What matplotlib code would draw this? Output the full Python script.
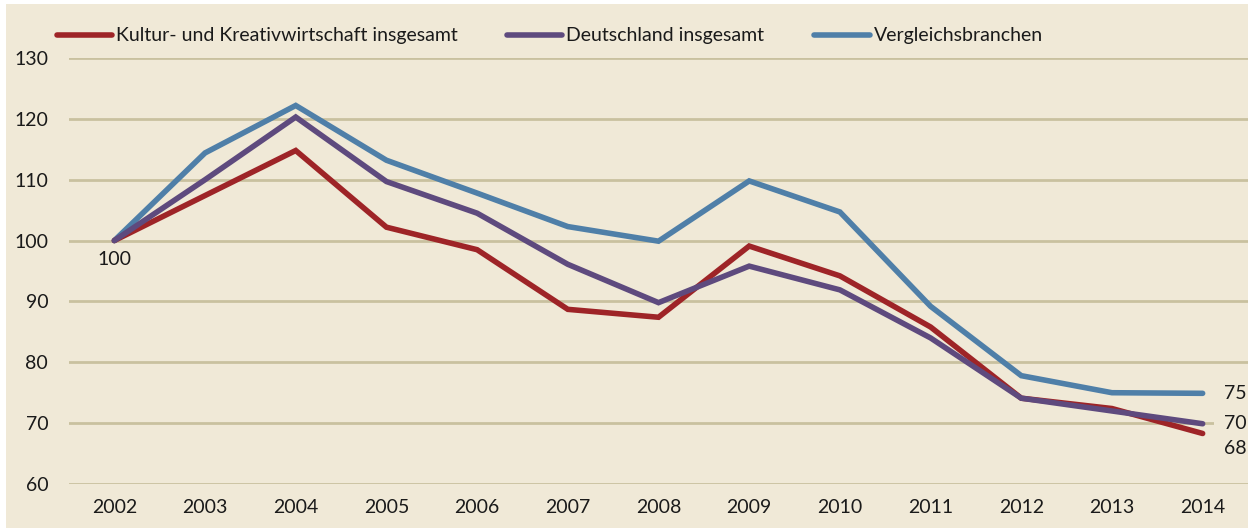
import matplotlib
matplotlib.use("Agg")
import matplotlib.pyplot as plt
from matplotlib.lines import Line2D
from matplotlib.patches import Rectangle

years = ["2002", "2003", "2004", "2005", "2006", "2007", "2008",
         "2009", "2010", "2011", "2012", "2013", "2014"]
kultur = [100, 107.4, 114.8, 102.2, 98.5, 88.7, 87.4, 99.1, 94.2, 85.8, 74.1, 72.4, 68.3]
deutschland = [100, 110.0, 120.3, 109.7, 104.5, 96.1, 89.8, 95.8, 91.9, 84.0, 74.1, 72.0, 69.9]
vergleich = [100, 114.4, 122.2, 113.2, 107.8, 102.3, 99.9, 109.8, 104.7, 89.2, 77.8, 75.0, 74.9]
series_names = ["Kultur- und Kreativwirtschaft insgesamt", "Deutschland insgesamt", "Vergleichsbranchen"]
end_labels = ["68", "70", "75"]
start_label = "100"
y_ticks = [60, 70, 80, 90, 100, 110, 120, 130]

BG = "#F0E9D7"
GRID = "#C9C19F"
RED = "#9E2427"
PURPLE = "#5E4A7E"
BLUE = "#4F7FA8"
TXT = "#1A1A1A"
FONT = ["Lato", "DejaVu Sans"]
FS = 14

plt.rcParams["font.family"] = FONT

W, H = 1248, 529
fig = plt.figure(figsize=(W / 100, H / 100), dpi=100)
fig.patch.set_facecolor("white")
fig.add_artist(Rectangle((6 / W, 1 / H), 1, (H - 5) / H, transform=fig.transFigure,
                         facecolor=BG, edgecolor="none", zorder=0))

ax = fig.add_axes([69 / W, (H - 484) / H, (W - 69) / W, (484 - 58) / H])
ax.set_facecolor("none")
x = list(range(len(years)))

ax.plot(x, vergleich, color=BLUE, lw=4, solid_capstyle="round", solid_joinstyle="miter", zorder=3)
ax.plot(x, deutschland, color=PURPLE, lw=4, solid_capstyle="round", solid_joinstyle="miter", zorder=4)
ax.plot(x, kultur, color=RED, lw=4, solid_capstyle="round", solid_joinstyle="miter", zorder=3.5)

ax.set_xlim(-0.5, len(years) - 0.5)
ax.set_ylim(60, 130)
ax.set_yticks(y_ticks)
ax.set_xticks(x)
ax.set_xticklabels(years)
ax.grid(axis="y", color=GRID, lw=2, zorder=1)
ax.set_axisbelow(True)
for s in ax.spines.values():
    s.set_visible(False)
ax.tick_params(axis="both", length=0, labelsize=FS, colors=TXT)
ax.tick_params(axis="y", pad=15)
ax.tick_params(axis="x", pad=11)

# data labels
ax.annotate(start_label, (0, kultur[0]), xytext=(0, -19), textcoords="offset pixels",
            ha="center", va="center", fontsize=FS, color=TXT, zorder=5)
last = len(years) - 1
ax.annotate(end_labels[2], (last, vergleich[-1]), xytext=(33, 0), textcoords="offset pixels",
            ha="center", va="center", fontsize=FS, color=TXT, zorder=5)
ax.annotate(end_labels[1], (last, 70), xytext=(33, 0), textcoords="offset pixels",
            ha="center", va="center", fontsize=FS, color=TXT, zorder=5,
            bbox=dict(facecolor=BG, edgecolor="none", boxstyle="square,pad=0.55"))
ax.annotate(end_labels[0], (last, kultur[-1]), xytext=(33, -15), textcoords="offset pixels",
            ha="center", va="center", fontsize=FS, color=TXT, zorder=5)

# legend drawn manually
leg_y = 1 - 35 / H
handles = [(57, 112, 116, RED), (507, 562, 566, PURPLE), (814, 870, 874, BLUE)]
for (x0, x1, xt, col), name in zip(handles, series_names):
    fig.add_artist(Line2D([x0 / W, x1 / W], [leg_y, leg_y], transform=fig.transFigure,
                          color=col, lw=4, solid_capstyle="round"))
    fig.text(xt / W, leg_y, name, ha="left", va="center", fontsize=FS, color=TXT)

fig.savefig("out.png", dpi=100, facecolor=fig.get_facecolor())
